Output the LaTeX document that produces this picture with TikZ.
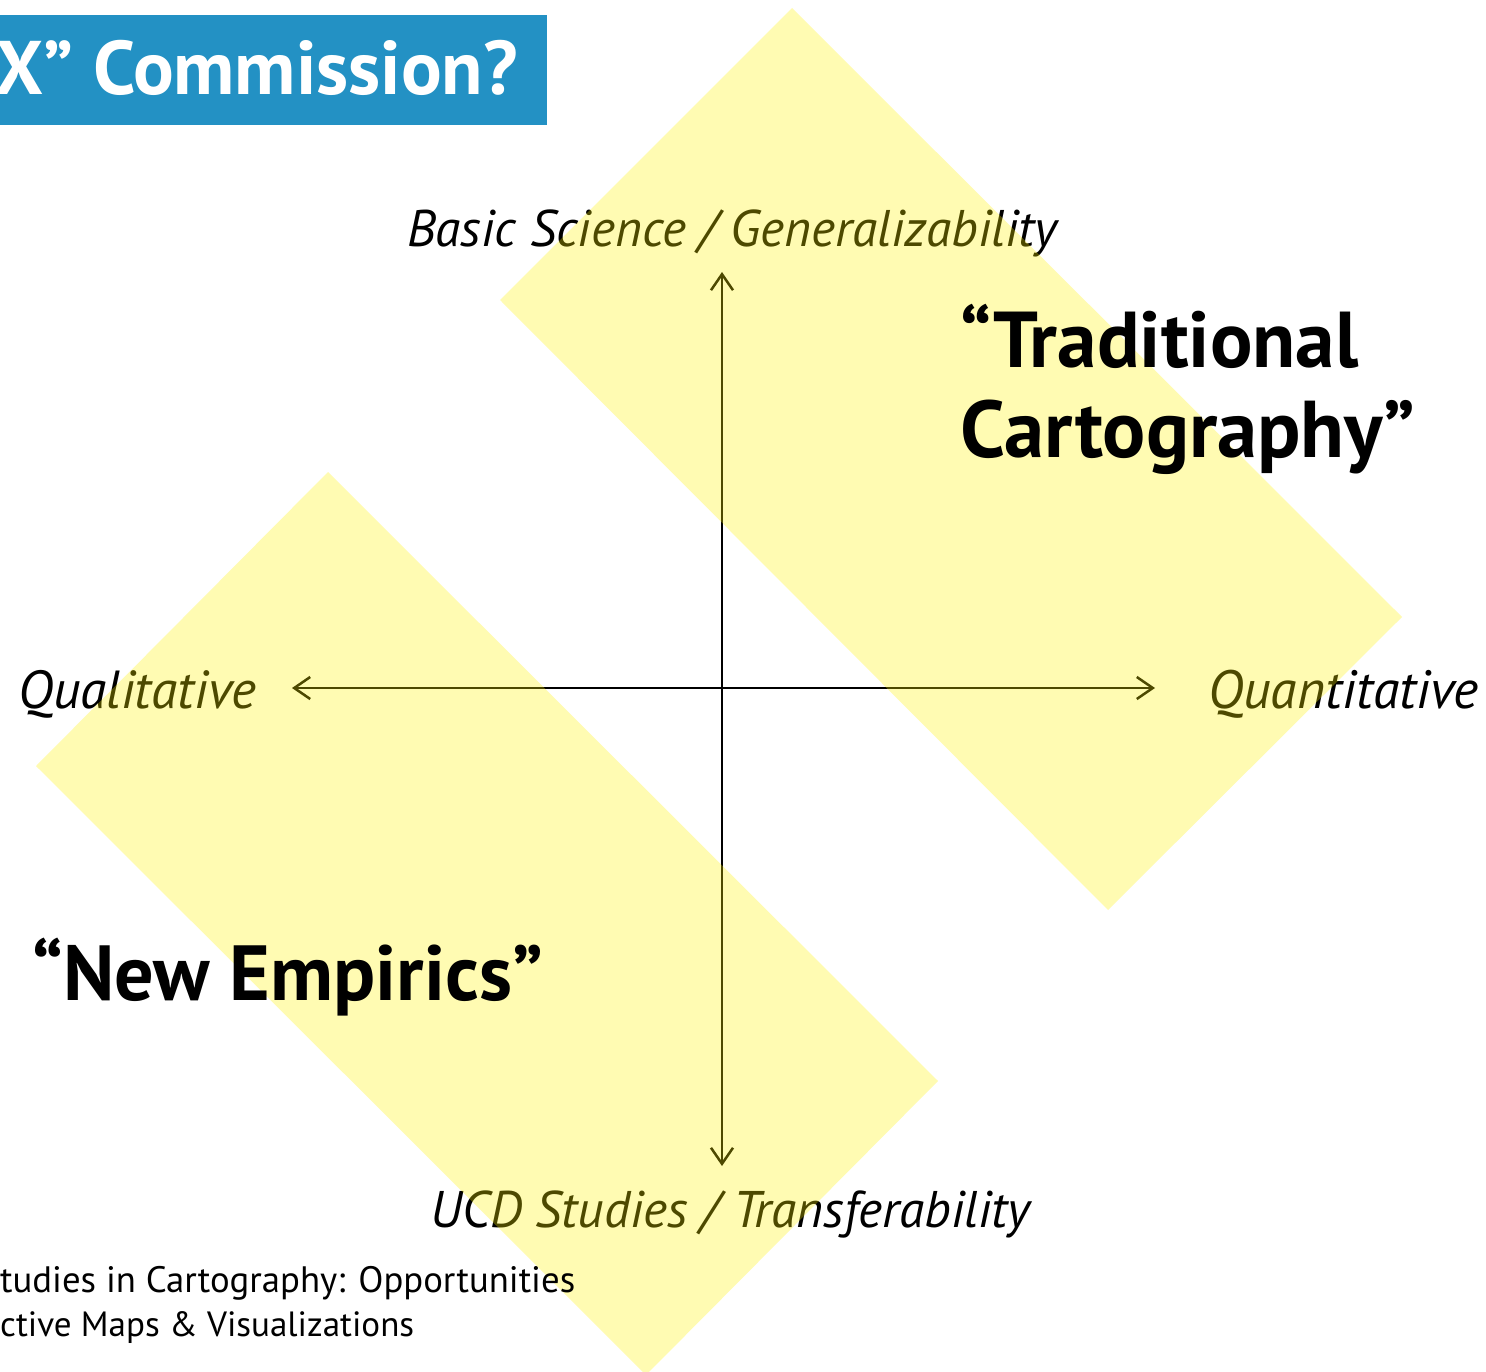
\documentclass[tikz,border=0pt]{standalone}
\usepackage{fontspec}
\usepackage{graphicx}
\setmainfont{PT Sans}
\usetikzlibrary{arrows.meta}
\definecolor{titleblue}{RGB}{35,145,196}
\newcommand\fitto[2]{\resizebox{#1}{!}{\fontsize{48}{58}\selectfont #2}}
\tikzset{
  axislabel/.style={font=\itshape, text=black, inner sep=0pt, anchor=base west},
  biglabel/.style={font=\bfseries, text=black, inner sep=0pt, anchor=base west},
  notelabel/.style={text=black, inner sep=0pt, anchor=base west},
  band/.style={fill=yellow, fill opacity=0.3, draw=none},
  axisline/.style={line width=2.5pt, black,
    {Straight Barb[length=16pt,width=22pt]}-{Straight Barb[length=16pt,width=22pt]}},
}
\begin{document}
\begin{tikzpicture}[x=1pt,y=-1pt]
\useasboundingbox (0,0) rectangle (1486,1372);
\clip (0,0) rectangle (1486,1372);
\fill[white] (0,0) rectangle (1486,1372);
% title
\node (titlebox) [fill=titleblue, inner sep=0pt, minimum width=547pt, minimum height=110pt, anchor=north west] at (0,15) {};
\node (title) [font=\bfseries, text=white, inner sep=0pt, anchor=base east] at (518,95) {\fitto{522pt}{\bfseries X” Commission?}};
% axes
\coordinate (center) at (722,688);
\coordinate (axtop) at (722,272);
\coordinate (axbottom) at (722,1166);
\coordinate (axleft) at (292,688);
\coordinate (axright) at (1155,688);
\draw[axisline] (axbottom) -- (axtop);
\draw[axisline] (axleft) -- (axright);
% axis labels
\node (basic) [axislabel] at (407,247) {\fitto{650pt}{\itshape Basic Science / Generalizability}};
\node (qual) [axislabel] at (18,708) {\fitto{238pt}{\itshape Qualitative}};
\node (quant) [axislabel] at (1208,708) {\fitto{270pt}{\itshape Quantitative}};
\node (ucd) [axislabel] at (430,1227) {\fitto{600pt}{\itshape UCD Studies / Transferability}};
% yellow bands
\fill[band] (792,8) -- (1402,617) -- (1108,910) -- (500,300) -- cycle;
\fill[band] (328,472) -- (938,1081) -- (646,1375) -- (36,766) -- cycle;
% bold labels
\node (trad1) [biglabel] at (960,368) {\fitto{398pt}{\bfseries “Traditional}};
\node (trad2) [biglabel] at (960,457) {\fitto{455pt}{\bfseries Cartography”}};
\node (newemp) [biglabel] at (32,1000) {\fitto{511pt}{\bfseries “New Empirics”}};
% bottom note
\node (note1) [notelabel] at (0,1292) {\fitto{575pt}{tudies in Cartography: Opportunities}};
\node (note2) [notelabel] at (0,1336) {\fitto{414pt}{ctive Maps \& Visualizations}};
\end{tikzpicture}
\end{document}
